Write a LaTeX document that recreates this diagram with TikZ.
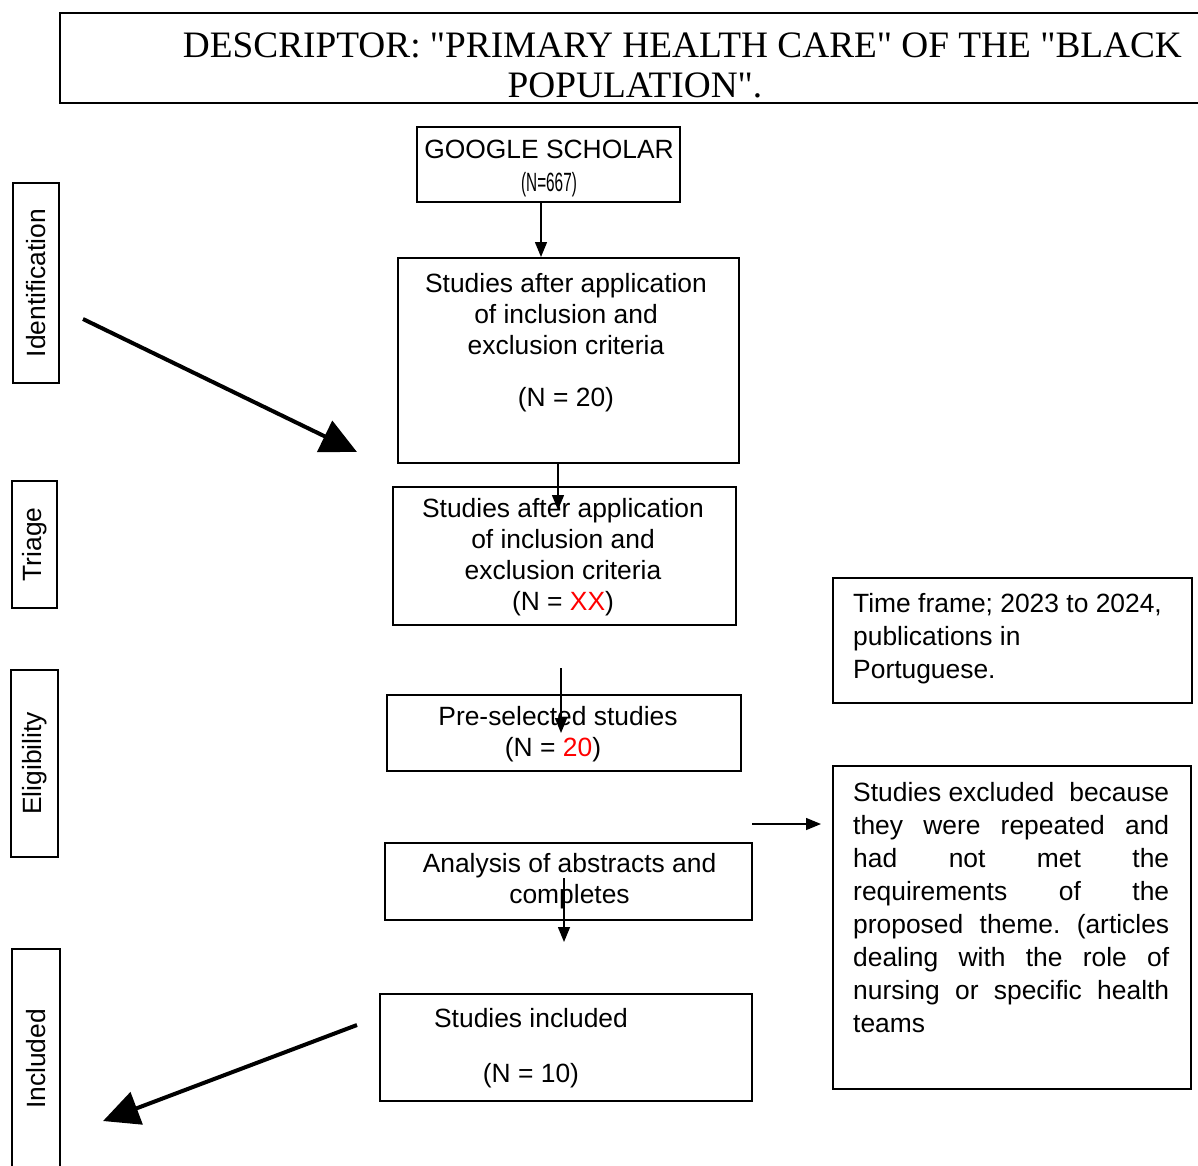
\documentclass[tikz,border=0pt]{standalone}
\usepackage{fontspec}
\usepackage{graphicx}
\setmainfont{Liberation Sans}
\newfontfamily\titlefont{Liberation Serif}
\usetikzlibrary{arrows.meta}
\begin{document}
\frenchspacing
\begin{tikzpicture}[x=1pt,y=-1pt,
  box/.style={draw, line width=2pt, rectangle, inner sep=0pt, anchor=north west},
  lbox/.style={draw, line width=2pt, rectangle, inner sep=0pt, rotate=90, anchor=center, font=\fontsize{26.4}{31}\selectfont},
  txt/.style={font=\fontsize{26.4}{31}\selectfont, inner sep=0pt, align=center, anchor=base},
  ltxt/.style={font=\fontsize{26.4}{33}\selectfont, inner sep=0pt, align=left, anchor=base west},
  ttl/.style={font=\titlefont\fontsize{37.3}{40}\selectfont, inner sep=0pt, anchor=base},
  thinarrow/.style={line width=1.4pt, -{Triangle[length=15pt,width=12pt]}},
  bigarrow/.style={line width=4pt, -{Triangle[length=36pt,width=34pt]}}]
\useasboundingbox (0,0) rectangle (1198,1165);

% title
\node[box, line width=2.2pt, minimum width=1160pt, minimum height=90pt] (title) at (59,12) {};
\node[ttl] (t1) at (682.5,57) {DESCRIPTOR: "PRIMARY HEALTH CARE" OF THE "BLACK};
\node[ttl] (t2) at (635,97) {POPULATION".};

% main boxes (text nodes anchored at the baseline of their last line)
\node[box, minimum width=263pt, minimum height=75pt] (g) at (416,126) {};
\node[txt] (gt) at (549,191) {GOOGLE SCHOLAR\\[2pt]\scalebox{0.58}[1]{(N=667)}};

\node[box, minimum width=341pt, minimum height=205pt] (b2) at (397,257) {};
\node[txt] (b2t) at (566,406) {Studies after application\\of inclusion and\\exclusion criteria\\[21pt](N = 20)};

\node[box, minimum width=343pt, minimum height=138pt] (b3) at (392,486) {};
\node[txt] (b3t) at (563,610) {Studies after application\\of inclusion and\\exclusion criteria\\(N = \textcolor{red}{XX})};

\node[box, minimum width=354pt, minimum height=76pt] (b4) at (386,694) {};
\node[txt] (b4t) at (558,756) {Pre-selected studies\\(N = \textcolor{red}{20})\kern10pt};

\node[box, minimum width=367pt, minimum height=77pt] (b5) at (384,842) {};
\node[txt] (b5t) at (569.5,903) {Analysis of abstracts and\\completes};

\node[box, minimum width=372pt, minimum height=107pt] (b6) at (379,993) {};
\node[txt] (b6t) at (531,1082) {Studies included\\[24pt](N = 10)};

% right boxes
\node[box, minimum width=359pt, minimum height=125pt] (r1) at (832,577) {};
\node[ltxt] (r1t) at (853,678) {Time frame; 2023 to 2024,\\publications in\\Portuguese.};

\node[box, minimum width=358pt, minimum height=323pt] (r2) at (832,765) {};
\node[ltxt] (r2t) at (853,1032) {\makebox[316pt][s]{Studies excluded\hspace{0pt plus 1fil}because}\\
\makebox[316pt][s]{they were repeated and}\\
\makebox[316pt][s]{had not met the}\\
\makebox[316pt][s]{requirements of the}\\
\makebox[316pt][s]{proposed theme. (articles}\\
\makebox[316pt][s]{dealing with the role of}\\
\makebox[316pt][s]{nursing or specific health}\\
teams};

% stage labels
\node[lbox, minimum width=200pt, minimum height=46pt] (lid) at (36,283) {Identification};
\node[lbox, minimum width=127pt, minimum height=45pt] (ltr) at (34.5,544.5) {Triage};
\node[lbox, minimum width=187pt, minimum height=47pt] (lel) at (34.5,763.5) {Eligibility};
\node[lbox, minimum width=220pt, minimum height=48pt] (lin) at (36,1059) {Included};

% connectors
\coordinate (c1) at (541,0);
\draw[thinarrow] (g.south -| c1) -- (b2.north -| c1);
\coordinate (e2) at (558,510);
\draw[thinarrow] (b2.south -| e2) -- (e2);
\coordinate (s3) at (561,668);
\coordinate (e3) at (561,733);
\draw[thinarrow] (s3) -- (e3);
\coordinate (s5) at (564,878);
\coordinate (e5) at (564,942);
\draw[thinarrow] (s5) -- (e5);
\coordinate (s6) at (752,824);
\coordinate (e6) at (821,824);
\draw[thinarrow] (s6) -- (e6);
\coordinate (s7) at (83,319);
\coordinate (e7) at (357,452);
\draw[bigarrow] (s7) -- (e7);
\coordinate (s8) at (357,1025);
\coordinate (e8) at (103,1121);
\draw[bigarrow] (s8) -- (e8);
\end{tikzpicture}
\end{document}
